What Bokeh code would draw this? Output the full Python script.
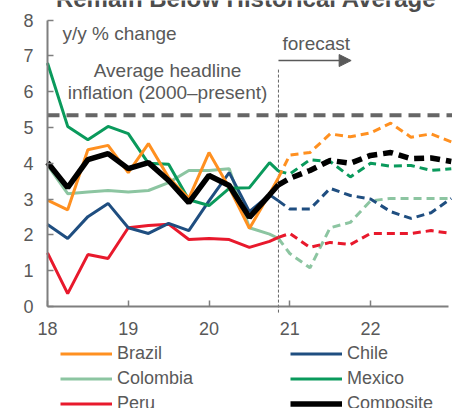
from bokeh.plotting import figure
from bokeh.models import Range1d, FixedTicker, Legend, LegendItem, Label, Arrow, NormalHead
from bokeh.embed import file_html
from bokeh.resources import INLINE

# ---- data (y/y % change) ----
X_ACTUAL = [18.0, 18.25, 18.5, 18.75, 19.0, 19.25, 19.5, 19.75, 20.0, 20.25, 20.5, 20.75, 20.86]
X_FORECAST = [20.86, 21.0, 21.25, 21.5, 21.75, 22.0, 22.25, 22.5, 22.75, 23.0]

BRAZIL_ACT = [2.97, 2.7, 4.38, 4.5, 3.74, 4.55, 3.6, 3.02, 4.3, 3.32, 2.18, 3.15, 3.6]
BRAZIL_FC = [3.6, 4.23, 4.3, 4.82, 4.74, 4.85, 5.12, 4.73, 4.82, 4.6]
CHILE_ACT = [2.29, 1.9, 2.51, 2.88, 2.2, 2.04, 2.32, 2.12, 2.95, 3.74, 2.65, 3.12, 2.95]
CHILE_FC = [2.95, 2.72, 2.72, 3.3, 3.1, 3.0, 2.65, 2.46, 2.62, 3.02]
COLOMBIA_ACT = [3.95, 3.15, 3.2, 3.24, 3.2, 3.24, 3.46, 3.8, 3.8, 3.85, 2.2, 2.02, 1.9]
COLOMBIA_FC = [1.9, 1.48, 1.08, 2.2, 2.35, 2.95, 3.02, 3.02, 3.02, 3.02]
MEXICO_ACT = [6.8, 5.03, 4.66, 5.03, 4.83, 4.0, 3.97, 2.98, 2.82, 3.3, 3.32, 4.02, 3.78]
MEXICO_FC = [3.78, 3.7, 4.1, 4.05, 3.62, 4.0, 3.92, 3.94, 3.8, 3.85]
PERU_ACT = [1.5, 0.36, 1.45, 1.34, 2.2, 2.26, 2.3, 1.87, 1.9, 1.87, 1.65, 1.82, 1.93]
PERU_FC = [1.93, 2.04, 1.65, 1.79, 1.73, 2.04, 2.04, 2.04, 2.12, 2.04]
COMPOSITE_ACT = [4.02, 3.32, 4.1, 4.27, 3.85, 4.02, 3.52, 2.9, 3.66, 3.38, 2.49, 3.12, 3.4]
COMPOSITE_FC = [3.4, 3.58, 3.8, 4.08, 4.0, 4.22, 4.3, 4.13, 4.15, 4.05]

AVG_X = [18.0, 23.02]
AVG_Y = [5.34, 5.34]
FORECAST_START = 20.86

X_TICKS = [18, 19, 20, 21, 22]
X_TICK_LABELS = ["18", "19", "20", "21", "22"]
Y_TICKS = [0, 1, 2, 3, 4, 5, 6, 7, 8]

FONT = "Liberation Sans"
TXT = "#595959"
AX = "#7f7f7f"

p = figure(width=452, height=408, x_range=Range1d(17.418, 23.015), y_range=Range1d(-2.849, 8.547),
           output_backend="svg", toolbar_location=None,
           min_border_left=0, min_border_right=0, min_border_top=0, min_border_bottom=0)
p.outline_line_color = None
p.xgrid.visible = False
p.ygrid.visible = False
p.background_fill_color = None

for ax in (p.xaxis[0], p.yaxis[0]):
    ax.axis_line_color = AX
    ax.axis_line_width = 2
    ax.major_tick_line_color = AX
    ax.major_tick_line_width = 1.5
    ax.major_tick_in = 6
    ax.major_tick_out = 0
    ax.minor_tick_line_color = None
    ax.major_label_text_font = FONT
    ax.major_label_text_font_size = "18px"
    ax.major_label_text_color = TXT
p.xaxis[0].ticker = FixedTicker(ticks=X_TICKS)
p.xaxis[0].major_label_overrides = {t: l for t, l in zip(X_TICKS, X_TICK_LABELS)}
p.xaxis[0].major_label_standoff = 15
p.xaxis[0].fixed_location = 0
p.xaxis[0].bounds = (18, 22.97)
p.yaxis[0].ticker = FixedTicker(ticks=Y_TICKS)
p.yaxis[0].major_label_standoff = 14
p.yaxis[0].fixed_location = 18
p.yaxis[0].bounds = (0, 8)

# historical average
p.line(AVG_X, AVG_Y, line_color="#666666", line_width=4, line_dash="12 7")

# forecast divider
p.segment(x0=[FORECAST_START], y0=[-0.17], x1=[FORECAST_START], y1=[6.65],
          line_color="#666666", line_width=1, line_dash="3 2")

series = [
    ("Colombia", COLOMBIA_ACT, COLOMBIA_FC, "#8cc5a1", 3),
    ("Peru", PERU_ACT, PERU_FC, "#e8192c", 3),
    ("Chile", CHILE_ACT, CHILE_FC, "#1f4e80", 3),
    ("Mexico", MEXICO_ACT, MEXICO_FC, "#0a9a5c", 3),
    ("Brazil", BRAZIL_ACT, BRAZIL_FC, "#ff9020", 3),
    ("Composite", COMPOSITE_ACT, COMPOSITE_FC, "#000000", 5.5),
]
rends = {}
for name, act, fc, col, lw in series:
    dash = "10 6" if name == "Composite" else "8 5"
    p.line(X_FORECAST, fc, line_color=col, line_width=lw, line_dash=dash)
    rends[name] = p.line(X_ACTUAL, act, line_color=col, line_width=lw)

order = ["Brazil", "Chile", "Colombia", "Mexico", "Peru", "Composite"]
legend = Legend(items=[LegendItem(label=n, renderers=[rends[n]]) for n in order],
                location=(60, -7.5), orientation="horizontal", ncols=2,
                glyph_width=52, glyph_height=25, label_height=25, label_width=173,
                label_standoff=5, spacing=0, padding=0, margin=0,
                label_text_font=FONT, label_text_font_size="18px", label_text_color=TXT,
                background_fill_alpha=0, border_line_alpha=0)
p.add_layout(legend)

def lab(x, y, text, align="left", size="19px", style="normal", color=TXT, baseline="middle"):
    p.add_layout(Label(x=x, y=y, text=text, text_font=FONT, text_font_size=size,
                       text_font_style=style, text_color=color, text_align=align,
                       text_baseline=baseline))

lab(20.46, 8.615, "Remain Below Historical Average", "center", "24px", "bold", "#4d4d4d", "alphabetic")
lab(18.186, 7.63, "y/y % change")
lab(19.486, 6.59, "Average headline", "center")
lab(19.486, 5.98, "inflation (2000\u2013present)", "center")
lab(20.91, 7.35, "forecast")

p.add_layout(Arrow(end=NormalHead(size=12, fill_color="#595959", line_color="#595959"),
                   x_start=20.86, y_start=6.87, x_end=21.76, y_end=6.87,
                   line_color="#595959", line_width=1.5))

open("out.html", "w").write(file_html(p, INLINE))
